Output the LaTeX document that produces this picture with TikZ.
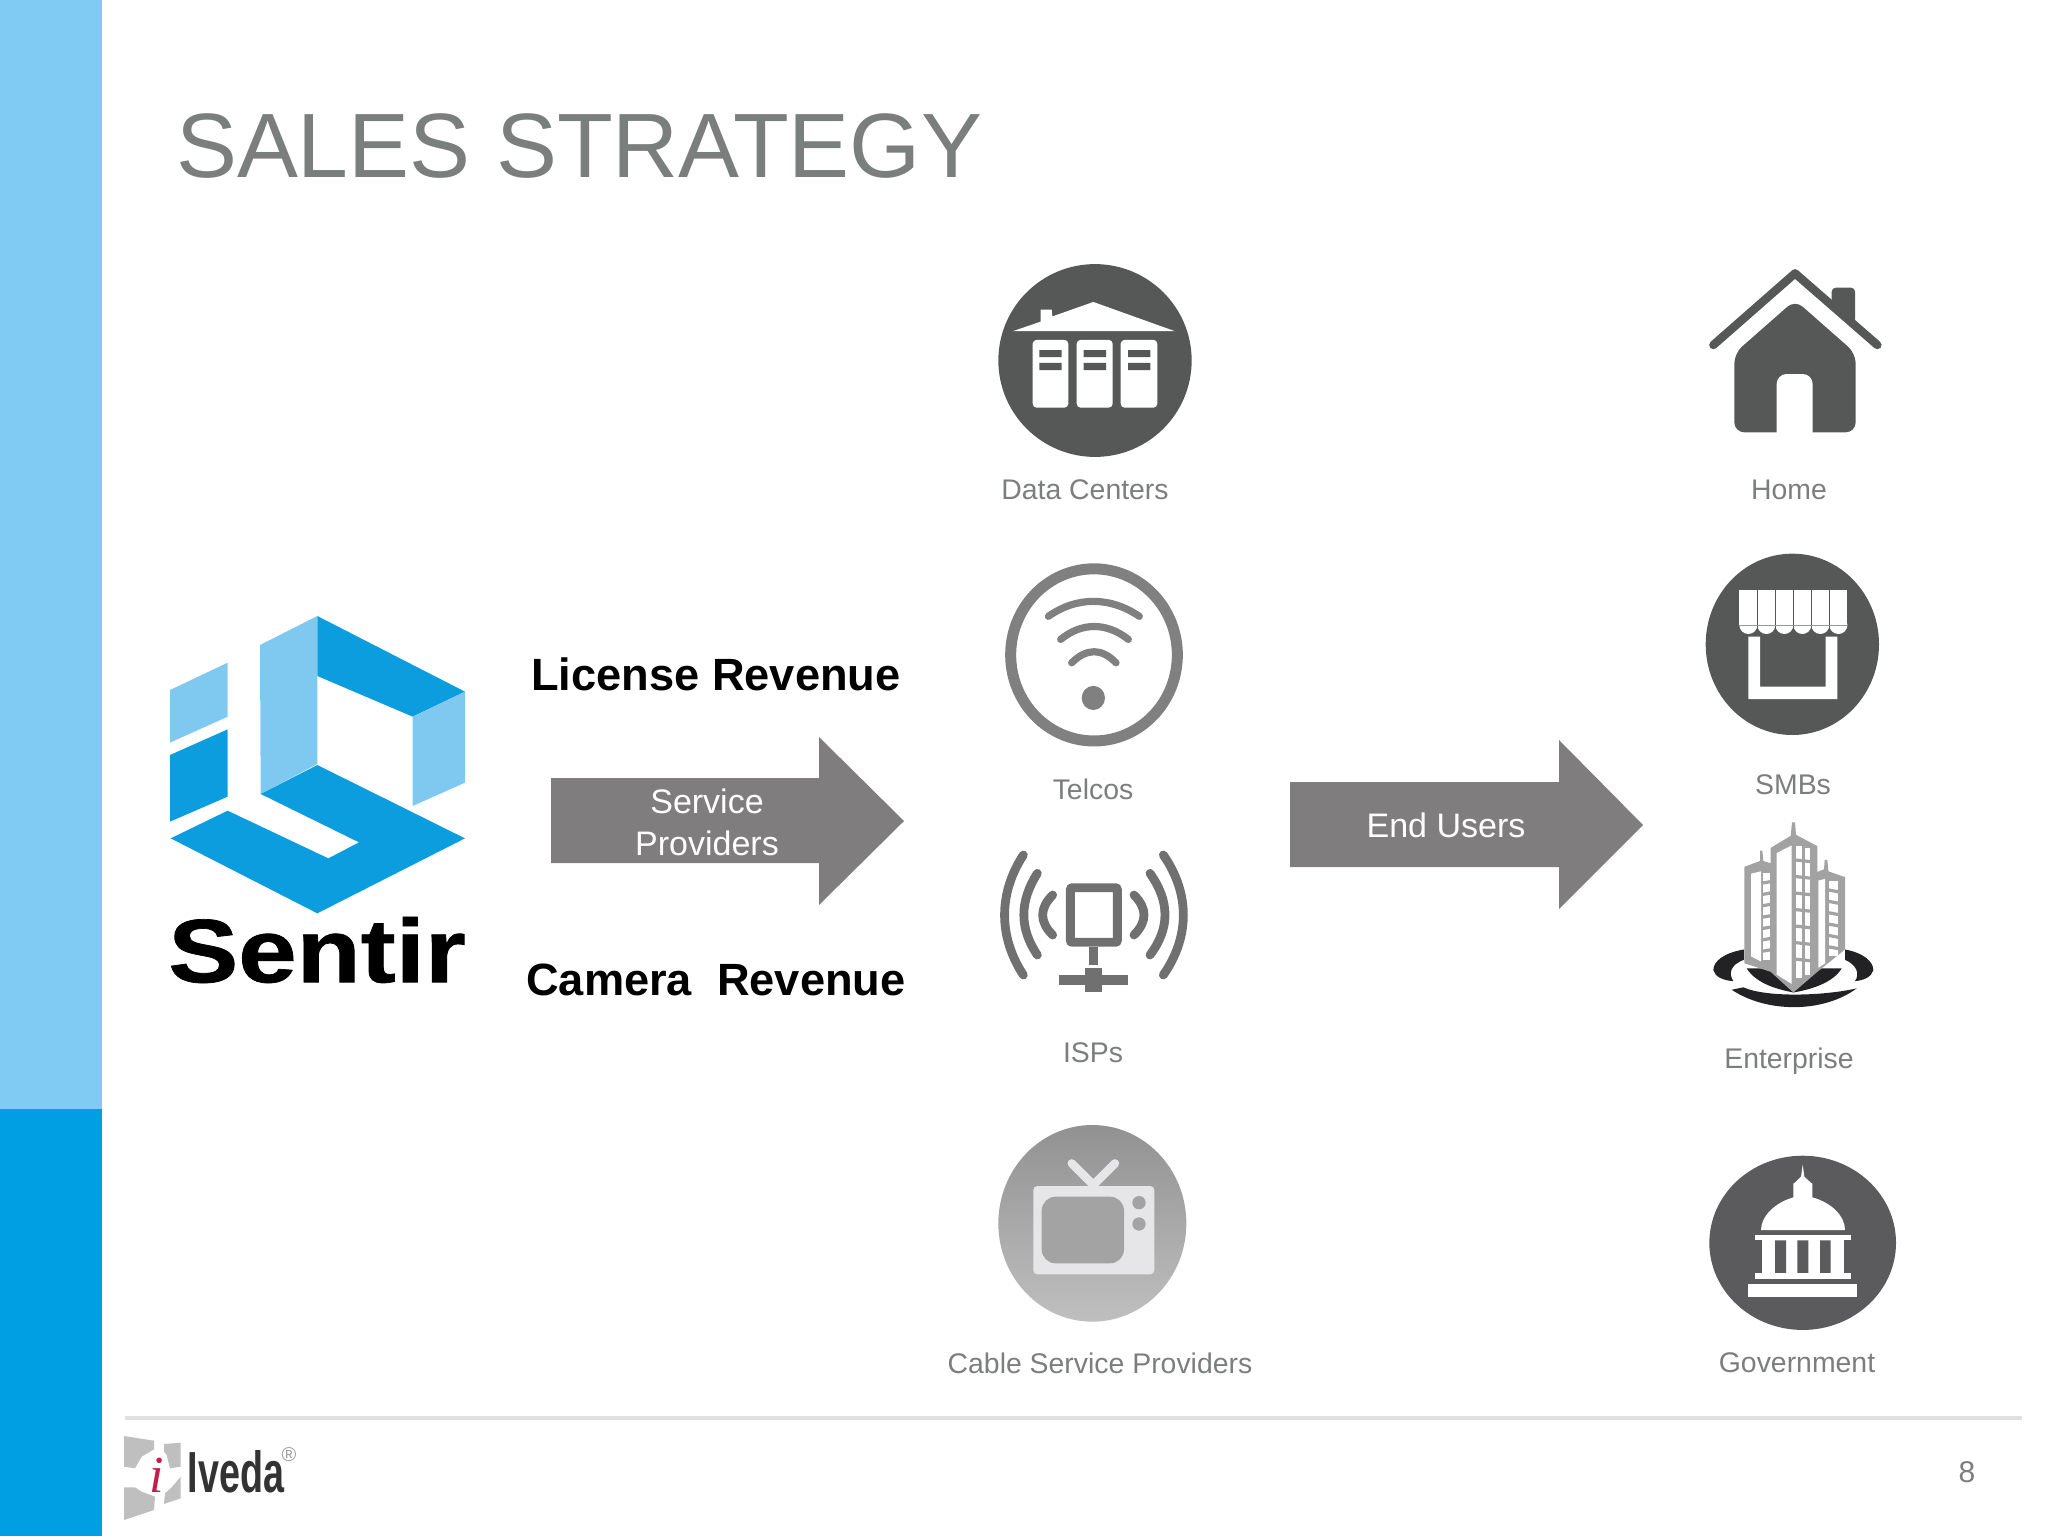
\documentclass[tikz,border=0pt]{standalone}
\usepackage{fontspec}
\setmainfont{Liberation Sans}
\newfontfamily\logofont[FakeBold=0.8]{Liberation Sans Bold}
\newfontfamily\serifi{Liberation Serif}
\usepackage{tikz}
\definecolor{bandlight}{HTML}{7FCBF3}
\definecolor{banddark}{HTML}{009FE3}
\definecolor{logolight}{HTML}{7FC9F1}
\definecolor{logodark}{HTML}{0C9DDF}
\definecolor{titlegray}{HTML}{7A7F7E}
\definecolor{arrowgray}{HTML}{7F7D7E}
\definecolor{labelgray}{HTML}{7C7E7E}
\definecolor{icondark}{HTML}{565857}
\definecolor{icongov}{HTML}{5B5A5C}
\definecolor{iconmid}{HTML}{808080}
\definecolor{ispgray}{HTML}{707071}
\definecolor{tvlight}{HTML}{E6E6E8}
\definecolor{bldg}{HTML}{A2A2A2}
\definecolor{ring}{HTML}{222224}
\tikzset{
	lbl/.style={text=labelgray,font=\fontsize{14.2}{17}\selectfont},
	revenue/.style={text=black,font=\fontsize{22.6}{27}\selectfont\bfseries},
	arrowtext/.style={text=white,align=center,font=\fontsize{17}{21}\selectfont},
	blockarrow/.style={fill=arrowgray},
	wave/.style={draw=ispgray,line width=4.4pt,line cap=round},
	wifi/.style={draw=iconmid,line width=3.6pt,line cap=round}
}
\begin{document}
\begin{tikzpicture}[x=0.5pt,y=-0.5pt]
	\useasboundingbox (0,0) rectangle (2048,1536);

	\fill[bandlight] (0,0) rectangle (102,1109);
	\fill[banddark] (0,1109) rectangle (102,1536);
	\draw[color=black!12,line width=2pt] (125,1418) -- (2022,1418);

	\node (title) at (579,146) {\fontsize{45.7}{55}\selectfont\color{titlegray}SALES STRATEGY};

	% Sentir logo
	\begin{scope}[shift={(140,590)},scale=1/3]
		\fill[logolight] (90,300) -- (263,218) -- (263,380) -- (90,458) -- cycle;
		\fill[logodark] (90,495) -- (263,418) -- (263,620) -- (90,695) -- cycle;
		\fill[logolight] (360,165) -- (532,78) -- (532,522) -- (362,612) -- cycle;
		\fill[logodark] (532,78) -- (975,305) -- (818,380) -- (532,258) -- cycle;
		\fill[logolight] (818,380) -- (975,305) -- (975,578) -- (818,648) -- cycle;
		\fill[logodark] (362,612) -- (532,525) -- (975,745) -- (532,970) -- (92,745) -- (263,662) -- (565,805) -- (657,757) -- cycle;
	\end{scope}
	\node[xscale=1.166] (sentir) at (317,950) {\logofont\fontsize{45}{50}\selectfont Sentir};

	\node[revenue] (license) at (716,674) {License Revenue};
	\node[revenue] (camera) at (716,980) {Camera\ \ Revenue};

	% block arrows
	\fill[blockarrow] (551,778) -- (819,778) -- (819,737) -- (904,821) -- (819,905) -- (819,863) -- (551,863) -- cycle;
	\node[arrowtext] (service) at (707,822) {Service\\Providers};
	\fill[blockarrow] (1290,782) -- (1559,782) -- (1559,740) -- (1643,825) -- (1559,909) -- (1559,867) -- (1290,867) -- cycle;
	\node[arrowtext] (endusers) at (1446,825) {End Users};

	% data centers
	\begin{scope}[shift={(960,240)},scale=1/3,yscale=1.033]
		\fill[icondark] (405,350) circle [x radius=290,y radius=280];
		\fill[white] (158,265) -- (242,237) -- (242,202) -- (275,202) -- (277,222) -- (400,180) -- (645,265) -- cycle;
		\fill[white,rounded corners=2pt] (218,290) rectangle (325,487);
		\fill[white,rounded corners=2pt] (350,290) rectangle (458,487);
		\fill[white,rounded corners=2pt] (482,290) rectangle (592,487);
		\fill[icondark] (238,320) rectangle (305,340) (238,357) rectangle (305,378);
		\fill[icondark] (371,320) rectangle (438,340) (371,357) rectangle (438,378);
		\fill[icondark] (504,320) rectangle (571,340) (504,357) rectangle (571,378);
		% telcos
		\draw[draw=iconmid,line width=5.5pt] (402,1205) circle [x radius=250,y radius=250];
		\draw[wifi] (265,1093) .. controls (350,1035) and (450,1035) .. (538,1093);
		\draw[wifi] (302,1160) .. controls (365,1110) and (440,1110) .. (505,1160);
		\draw[wifi] (335,1228) .. controls (380,1185) and (425,1185) .. (468,1228);
		\fill[iconmid] (400,1330) circle [radius=35];
	\end{scope}
	\node[lbl] (datacenters) at (1085,490) {Data Centers};
	\node[lbl] (telcos) at (1093,789) {Telcos};

	% isps and cable
	\begin{scope}[shift={(960,830)},scale=1/3]
		\draw[wave] (190,75) .. controls (115,190) and (115,320) .. (190,435);
		\draw[wave] (232,130) .. controls (178,215) and (178,295) .. (232,375);
		\draw[wave] (278,195) .. controls (238,235) and (238,275) .. (278,315);
		\draw[wave] (610,75) .. controls (690,190) and (690,320) .. (610,435);
		\draw[wave] (570,130) .. controls (630,215) and (630,295) .. (570,375);
		\draw[wave] (522,195) .. controls (562,235) and (562,275) .. (522,315);
		\draw[draw=ispgray,line width=4.4pt,rounded corners=1pt] (331,173) rectangle (472,337);
		\fill[ispgray] (387,350) rectangle (413,405);
		\fill[ispgray] (298,435) rectangle (503,465);
		\fill[ispgray] (375,415) rectangle (427,487);
		\shade[top color=black!43,bottom color=black!25] (397,1180) circle [x radius=282,y radius=295];
		\draw[draw=tvlight,line width=4.2pt,line cap=round] (335,1000) -- (400,1065) -- (465,1000);
		\fill[tvlight,rounded corners=2pt] (220,1068) rectangle (583,1333);
		\fill[black!36,rounded corners=7pt] (245,1100) rectangle (492,1300);
		\fill[black!36] (537,1118) circle [radius=20];
		\fill[black!36] (537,1182) circle [radius=20];
	\end{scope}
	\node[lbl] (isps) at (1093,1053) {ISPs};
	\node[lbl] (cable) at (1100,1363) {Cable Service Providers};

	% home and smbs
	\begin{scope}[shift={(1680,250)},scale=1/3]
		\fill[icondark,rounded corners=2pt] (455,160) -- (455,113) -- (525,113) -- (525,220) -- cycle;
		\draw[draw=icondark,line width=4.2pt,line cap=round,line join=round] (100,285) -- (345,70) -- (592,285);
		\fill[icondark,rounded corners=5pt] (163,310) -- (345,150) -- (527,310) -- (527,547) -- (163,547) -- cycle;
		\fill[white,rounded corners=5pt] (290,620) -- (290,372) -- (398,372) -- (398,620) -- cycle;
		\fill[icondark] (337,1183) circle [x radius=260,y radius=272];
		\fill[white] (178,1020) rectangle (502,1125);
		\fill[white] (205,1125) circle [radius=27];
		\fill[white] (259,1125) circle [radius=27];
		\fill[white] (313,1125) circle [radius=27];
		\fill[white] (367,1125) circle [radius=27];
		\fill[white] (421,1125) circle [radius=27];
		\fill[white] (475,1125) circle [radius=27];
		\draw[icondark,line width=0.7pt] (232,1020) -- (232,1148) (286,1020) -- (286,1148) (340,1020) -- (340,1148) (394,1020) -- (394,1148) (448,1020) -- (448,1148);
		\draw[black!40,line width=0.5pt] (178,1125) -- (502,1125);
		\fill[white] (205,1160) -- (240,1160) -- (240,1310) -- (437,1310) -- (437,1160) -- (472,1160) -- (472,1347) -- (205,1347) -- cycle;
	\end{scope}
	\node[lbl] (home) at (1789,490) {Home};
	\node[lbl] (smbs) at (1793,785) {SMBs};

	% enterprise and government
	\begin{scope}[shift={(1680,810)},scale=1/3,yscale=1.033]
		\fill[ring] (192,405) .. controls (130,415) and (100,440) .. (100,465) .. controls (105,485) and (130,495) .. (160,497) .. controls (145,475) and (150,450) .. (192,435) -- cycle;
		\fill[ring] (495,405) .. controls (550,415) and (580,440) .. (580,465) .. controls (575,485) and (550,495) .. (525,497) .. controls (540,475) and (530,450) .. (495,435) -- cycle;
		\fill[ring] (155,522) .. controls (260,590) and (430,590) .. (530,518) .. controls (430,540) and (260,545) .. (190,515) -- cycle;
		\fill[ring] (200,460) .. controls (230,505) and (290,520) .. (340,530) .. controls (400,520) and (460,500) .. (485,460) -- cycle;
		\fill[bldg] (193,165) -- (240,148) -- (240,118) -- (247,118) -- (250,148) -- (272,155) -- (272,110) -- (332,75) -- (336,36) -- (345,36) -- (348,72) -- (412,105) -- (412,180) -- (432,172) -- (434,145) -- (442,145) -- (445,178) -- (495,195) -- (495,405) -- (412,470) -- (340,530) -- (272,470) -- (193,445) -- cycle;
		% white faces
		\fill[white] (290,125) -- (335,103) -- (335,505) -- (290,478) -- cycle;
		\fill[white] (213,185) -- (243,178) -- (243,440) -- (213,425) -- cycle;
		\fill[white] (415,205) -- (435,200) -- (435,445) -- (415,458) -- cycle;
		% windows
		\fill[white] (347,105) rectangle (365,488);
		\fill[white] (375,110) rectangle (390,480);
		\fill[white] (250,182) rectangle (270,435);
		\fill[white] (446,205) rectangle (475,425);
		\draw[bldg,line width=1.6pt] (345,145) -- (392,150) (345,193) -- (392,198) (345,241) -- (392,246) (345,289) -- (392,294) (345,337) -- (392,342) (345,385) -- (392,390) (345,433) -- (392,438);
		\draw[bldg,line width=1.6pt] (248,212) -- (272,208) (248,245) -- (272,241) (248,278) -- (272,274) (248,311) -- (272,307) (248,344) -- (272,340) (248,377) -- (272,373) (248,410) -- (272,406);
		\draw[bldg,line width=1.6pt] (444,232) -- (477,238) (444,265) -- (477,271) (444,298) -- (477,304) (444,331) -- (477,337) (444,364) -- (477,370) (444,397) -- (477,403);
		\fill[icongov] (368,1257) circle [x radius=280,y radius=253];
		\fill[white] (368,1030) -- (373,1065) -- (392,1082) -- (397,1085) -- (397,1125) .. controls (455,1140) and (495,1180) .. (495,1220) -- (243,1220) .. controls (243,1180) and (285,1140) .. (340,1125) -- (340,1085) -- (345,1082) -- (363,1065) -- cycle;
		\fill[white] (225,1235) rectangle (513,1248);
		\fill[white] (245,1248) rectangle (492,1345);
		\fill[icongov] (285,1250) rectangle (318,1345) (352,1250) rectangle (385,1345) (420,1250) rectangle (452,1345);
		\fill[white] (225,1345) rectangle (513,1362);
		\fill[white] (205,1378) rectangle (532,1415);
	\end{scope}
	\node[lbl] (enterprise) at (1789,1061) {Enterprise};
	\node[lbl] (government) at (1797,1363) {Government};

	% footer logo
	\begin{scope}[shift={(110,1400)},scale=1/3]
		\fill[black!25] (42,108) -- (132,122) -- (132,148) -- (95,170) -- (75,205) -- (42,200) -- cycle;
		\fill[black!25] (162,132) -- (212,128) -- (212,200) -- (180,205) -- (170,165) -- (162,155) -- cycle;
		\fill[black!25] (42,262) -- (75,262) -- (95,275) -- (135,290) -- (132,330) -- (42,360) -- cycle;
		\fill[black!25] (212,230) -- (212,295) -- (162,312) -- (165,280) -- (185,262) -- cycle;
	\end{scope}
	\node (ilogo) at (157,1475) {\serifi\fontsize{26}{30}\selectfont\itshape\color[HTML]{C01F4E}i};
	\node[xscale=.65,text=black!80] (iveda) at (236,1472) {\fontsize{29}{34}\selectfont\bfseries Iveda};
	\node[text=black!40] (regmark) at (289,1455) {\fontsize{10}{12}\selectfont\textregistered};

	\node[text=labelgray] (pagenum) at (1967,1472) {\fontsize{15}{18}\selectfont 8};
\end{tikzpicture}
\end{document}
